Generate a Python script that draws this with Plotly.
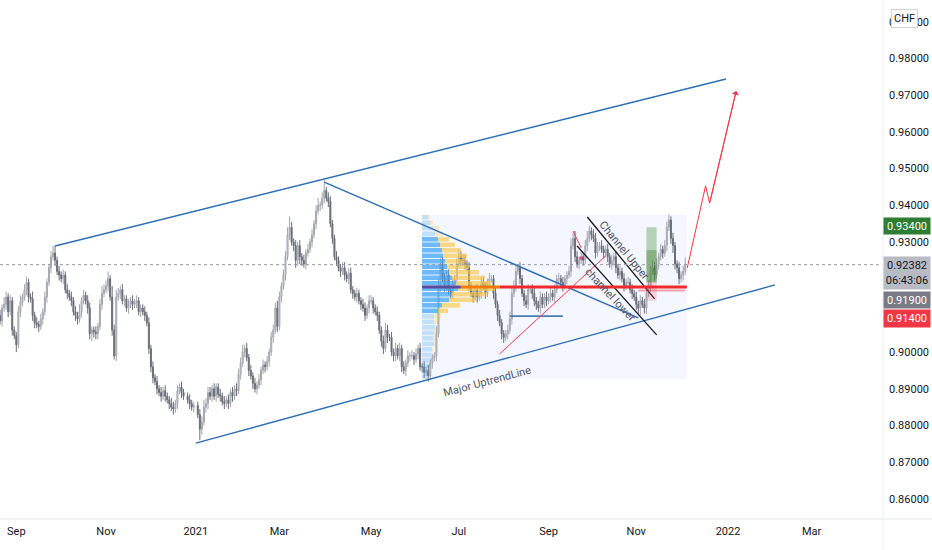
"""
USD/CHF daily chart with hand drawn trendlines, a fixed range volume
profile and a long position setup (TradingView style idea chart).
"""
import pandas as pd
import plotly.graph_objects as go

# daily closes in pips (x 1e-4), Aug 20 2020 .. Dec 3 2021, one row per week
closes = [
    9085, 9120,                        # Aug 17 2020 (Thu, Fri)
    9130, 9150, 9110, 9140, 9060,      # Aug 24
    9045, 9020, 9110, 9135, 9150,      # Aug 31
    9170, 9190, 9150, 9145, 9100,      # Sep 7
    9080, 9075, 9070, 9090, 9110,      # Sep 14
    9150, 9190, 9230, 9260, 9270,      # Sep 21
    9250, 9220, 9210, 9200, 9210,      # Sep 28
    9170, 9160, 9150, 9140, 9110,      # Oct 5
    9100, 9090, 9110, 9140, 9155,      # Oct 12
    9140, 9120, 9050, 9060, 9055,      # Oct 19
    9050, 9070, 9130, 9160, 9170,      # Oct 26
    9180, 9200, 9150, 9060, 8990,      # Nov 2
    9150, 9160, 9170, 9140, 9145,      # Nov 9
    9120, 9130, 9140, 9130, 9135,      # Nov 16
    9140, 9110, 9120, 9110, 9100,      # Nov 23
    9080, 9010, 8960, 8930, 8920,      # Nov 30
    8900, 8890, 8880, 8895, 8880,      # Dec 7
    8870, 8860, 8850, 8845, 8860,      # Dec 14
    8895, 8905, 8890, 8880,            # Dec 21 (no Dec 25)
    8870, 8860, 8850, 8855,            # Dec 28 (no Jan 1)
    8830, 8790, 8810, 8850, 8860,      # Jan 4 2021
    8890, 8880, 8900, 8880, 8905,      # Jan 11
    8885, 8880, 8865, 8860, 8870,      # Jan 18
    8860, 8890, 8880, 8900, 8895,      # Jan 25
    8940, 8970, 9000, 9010, 8985,      # Feb 1
    8950, 8935, 8915, 8900, 8910,      # Feb 8
    8925, 8950, 8965, 8960, 8975,      # Feb 15
    9000, 9040, 9060, 9120, 9070,      # Feb 22
    9150, 9180, 9210, 9260, 9320,      # Mar 1
    9340, 9300, 9290, 9250, 9290,      # Mar 8
    9260, 9250, 9240, 9270, 9280,      # Mar 15
    9300, 9320, 9350, 9385, 9400,      # Mar 22
    9400, 9420, 9440, 9420, 9410,      # Mar 29
    9350, 9310, 9260, 9250, 9230,      # Apr 5
    9220, 9230, 9210, 9200, 9215,      # Apr 12
    9170, 9160, 9150, 9160, 9140,      # Apr 19
    9130, 9120, 9100, 9120, 9140,      # Apr 26
    9140, 9120, 9110, 9100, 9060,      # May 3
    9030, 9010, 9060, 9040, 9040,      # May 10
    9000, 8990, 9010, 8990, 9010,      # May 17
    8960, 8950, 8970, 8990, 8990,      # May 24
    8990, 8980, 8995, 9010, 8960,      # May 31
    8960, 8945, 8950, 8935, 8970,      # Jun 7
    8985, 8990, 9050, 9180, 9240,      # Jun 14
    9200, 9180, 9210, 9170, 9160,      # Jun 21
    9190, 9200, 9240, 9260, 9250,      # Jun 28
    9250, 9240, 9230, 9180, 9160,      # Jul 5
    9150, 9170, 9150, 9160, 9190,      # Jul 12
    9180, 9160, 9190, 9200, 9200,      # Jul 19
    9160, 9130, 9100, 9080, 9050,      # Jul 26
    9040, 9050, 9060, 9090, 9160,      # Aug 2
    9180, 9220, 9230, 9200, 9160,      # Aug 9
    9140, 9130, 9170, 9170, 9160,      # Aug 16
    9140, 9130, 9120, 9150, 9130,      # Aug 23
    9150, 9140, 9150, 9160, 9150,      # Aug 30
    9170, 9200, 9200, 9190, 9180,      # Sep 6
    9200, 9210, 9220, 9290, 9310,      # Sep 13
    9260, 9240, 9250, 9260, 9250,      # Sep 20
    9290, 9310, 9330, 9320, 9310,      # Sep 27
    9270, 9290, 9290, 9280, 9270,      # Oct 4
    9280, 9260, 9240, 9250, 9260,      # Oct 11
    9230, 9210, 9220, 9200, 9180,      # Oct 18
    9190, 9190, 9170, 9160, 9150,      # Oct 25
    9130, 9120, 9140, 9130, 9120,      # Nov 1
    9160, 9180, 9220, 9230, 9210,      # Nov 8
    9240, 9260, 9280, 9270, 9290,      # Nov 15
    9340, 9360, 9310, 9290, 9240,      # Nov 22
    9230, 9200, 9210, 9220, 9238,      # Nov 29
]
first_open = 9100

# wick lengths per bar in 5 pip steps, same weekly grouping as closes
wick_up = ("32 43232 22342 33224 23232 32234 42323 23232 32423 23322 32343 34263 "
           "43232 23232 32223 23232 32323 22332 3232 2322 23343 33232 23232 32323 "
           "33423 23232 32323 23334 32334 63232 32323 23234 23623 32232 23323 32232 "
           "23323 32232 23432 32323 23232 32323 23232 22443 43232 32343 33232 23323 "
           "32232 23232 22343 33232 23323 32232 23232 32323 22343 43232 34323 32232 "
           "23232 32323 23232 32323 23343 32323 33232 23234")
wick_down = ("23 23323 24232 23323 32323 23232 32323 23232 33232 23343 33232 23232 "
             "32323 23232 32323 23332 32323 23232 3232 2323 26323 32323 23232 32323 "
             "23232 32323 23232 32323 23232 32343 43232 23232 32323 23232 32323 23232 "
             "32323 23232 33232 23323 32323 23232 33232 32323 23333 32323 23232 32323 "
             "23232 32323 32323 23232 32323 33232 23232 32323 23232 32323 23232 32323 "
             "23232 32323 23232 33423 32323 23232 32343 33232")

last_price = 0.92382

# fixed range volume profile, Jun 2021 .. Dec 2021 (15 pip rows)
vp_prices = [0.89325, 0.89475, 0.89625, 0.89775, 0.89925, 0.90075, 0.90225, 0.90375,
             0.90525, 0.90675, 0.90825, 0.90975, 0.91125, 0.91275, 0.91425, 0.91575,
             0.91725, 0.91875, 0.92025, 0.92175, 0.92325, 0.92475, 0.92625, 0.92775,
             0.92925, 0.93075, 0.93225, 0.93375, 0.93525, 0.93675]
vp_up = [5, 7, 8, 9, 9, 10, 12, 11, 12, 13, 12, 12, 16, 20, 27,
         30, 36, 34, 30, 27, 25, 23, 21, 20, 18, 16, 13, 11, 8, 6]
vp_down = [0, 0, 0, 1, 1, 1, 2, 2, 2, 3, 3, 7, 10, 18, 26,
           35, 37, 35, 33, 30, 22, 21, 24, 19, 15, 11, 8, 6, 3, 2]
va_low, va_high = 0.9105, 0.9315
vp_start, vp_end = "2021-06-07", "2021-12-03 20:00"
poc_price = 0.91774

# hand drawn lines: x0, y0, x1, y1, colour, width
drawings = [
    ("2020-09-28", 0.9289, "2021-12-31", 0.9744, "#2d6db5", 1.4),   # upper channel
    ("2021-01-01", 0.8752, "2022-02-03", 0.9183, "#2d6db5", 1.4),   # major uptrend
    ("2021-03-31", 0.9463, "2021-11-02", 0.9093, "#2d6db5", 1.4),   # falling line
    ("2021-08-05", 0.9098, "2021-09-10", 0.9098, "#4a7bb0", 1.6),
    ("2021-07-29", 0.8995, "2021-10-11", 0.9262, "#f23645", 1),
    ("2021-09-17", 0.9330, "2021-09-23", 0.9284, "#f23645", 1),
    ("2021-09-28", 0.9368, "2021-11-12", 0.9145, "#131722", 1.3),   # channel upper
    ("2021-09-21", 0.9289, "2021-11-15", 0.9047, "#131722", 1.3),   # channel lower
]

# projected path
proj_dates = ["2021-12-06", "2021-12-17", "2021-12-21", "2022-01-07"]
proj_prices = [0.9229, 0.9453, 0.9406, 0.9711]

# long position tool
pos_start, pos_end = "2021-11-08", "2021-11-15"
entry, target, stop = 0.919, 0.934, 0.914

# 0.91 and 0.92 sit under the price labels, so they are not drawn
y_ticks = [0.86, 0.87, 0.88, 0.89, 0.90, 0.93, 0.94, 0.95, 0.96, 0.97, 0.98, 0.99]
x_ticks = ["2020-09-01", "2020-11-02", "2021-01-01", "2021-03-01", "2021-05-03",
           "2021-07-01", "2021-09-01", "2021-11-01", "2022-01-03", "2022-03-01"]
x_tick_text = ["Sep", "Nov", "2021", "Mar", "May", "Jul", "Sep", "Nov", "2022", "Mar"]

FONT = "Roboto"
TEXT = "#131722"


def build_ohlc():
    dates = [d for d in pd.bdate_range("2020-08-20", "2021-12-03")
             if d.strftime("%m-%d") not in ("12-25", "01-01")]
    up = [int(ch) * 5 for ch in wick_up.replace(" ", "")]
    dn = [int(ch) * 5 for ch in wick_down.replace(" ", "")]
    n = min(len(dates), len(closes), len(up), len(dn))
    c = closes[:n]
    c = c[:-1] + [last_price * 10000]
    o = [first_open] + c[:-1]
    h = [max(a, b) + u for a, b, u in zip(o, c, up)]
    l = [min(a, b) - d for a, b, d in zip(o, c, dn)]
    df = pd.DataFrame({"date": dates[:n], "open": o, "high": h, "low": l, "close": c})
    for col in ("open", "high", "low", "close"):
        df[col] = df[col] / 10000
    return df


def create_chart():
    df = build_ohlc()
    fig = go.Figure()

    # volume profile rows on an overlaid pixel-like axis
    in_va = [va_low <= p <= va_high for p in vp_prices]
    fig.add_trace(go.Bar(
        y=vp_prices, x=vp_up, base=0, orientation="h", width=0.00125,
        marker_color=["rgba(66,165,245,0.75)" if v else "rgba(66,165,245,0.28)" for v in in_va],
        marker_line_width=0, xaxis="x2", yaxis="y", hoverinfo="skip", showlegend=False))
    fig.add_trace(go.Bar(
        y=vp_prices, x=vp_down, base=vp_up, orientation="h", width=0.00125,
        marker_color=["rgba(251,200,70,0.65)" if v else "rgba(251,200,70,0.3)" for v in in_va],
        marker_line_width=0, xaxis="x2", yaxis="y", hoverinfo="skip", showlegend=False))

    fig.add_trace(go.Candlestick(
        x=df["date"], open=df["open"], high=df["high"], low=df["low"], close=df["close"],
        increasing=dict(line=dict(color="#a3a6af", width=1), fillcolor="#d1d4dc"),
        decreasing=dict(line=dict(color="#6a6d78", width=1), fillcolor="#6a6d78"),
        showlegend=False, hoverinfo="skip"))

    fig.add_trace(go.Scatter(
        x=proj_dates, y=proj_prices, mode="lines",
        line=dict(color="#f23645", width=1), hoverinfo="skip", showlegend=False))

    shapes = []
    # volume profile range background
    shapes.append(dict(type="rect", xref="x", yref="y", x0=vp_start, x1=vp_end,
                       y0=0.8926, y1=0.9374, fillcolor="rgba(41,98,255,0.05)",
                       line_width=0, layer="below"))
    for x0, y0, x1, y1, color, width in drawings:
        shapes.append(dict(type="line", xref="x", yref="y", x0=x0, y0=y0, x1=x1, y1=y1,
                           line=dict(color=color, width=width)))
    # point of control / red level
    shapes.append(dict(type="line", x0=vp_start, x1="2021-07-02", y0=poc_price, y1=poc_price,
                       line=dict(color="#5b4a9e", width=3)))
    shapes.append(dict(type="line", x0="2021-07-02", x1="2021-07-29", y0=poc_price, y1=poc_price,
                       line=dict(color="#f57c00", width=3)))
    shapes.append(dict(type="line", x0="2021-07-29", x1=vp_end, y0=poc_price, y1=poc_price,
                       line=dict(color="#ef2a2a", width=3)))
    shapes.append(dict(type="line", x0="2021-11-02", x1="2021-12-03", y0=0.9168, y1=0.9168,
                       line=dict(color="rgba(242,54,69,0.45)", width=2)))
    shapes.append(dict(type="rect", x0="2021-09-22", x1="2021-09-24", y0=0.9252, y1=0.9260,
                       fillcolor="rgba(233,30,99,0.6)", line_width=0))
    # long position tool
    shapes.append(dict(type="rect", x0=pos_start, x1=pos_end, y0=entry, y1=target,
                       fillcolor="rgba(76,150,60,0.38)", line_width=0))
    shapes.append(dict(type="rect", x0=pos_start, x1=pos_end, y0=entry, y1=0.9278,
                       fillcolor="rgba(56,120,40,0.35)", line_width=0))
    shapes.append(dict(type="rect", x0=pos_start, x1=pos_end, y0=stop, y1=entry,
                       fillcolor="rgba(242,54,69,0.2)", line_width=0))
    # last price dotted line
    shapes.append(dict(type="line", xref="paper", x0=0, x1=0.995, y0=last_price, y1=last_price,
                       line=dict(color="#9598a1", width=1, dash="dot")))
    # axis separators
    shapes.append(dict(type="line", xref="paper", yref="paper", x0=0, x1=1.06, y0=0, y1=0,
                       line=dict(color="#e0e3eb", width=1)))
    shapes.append(dict(type="line", xref="paper", yref="paper", x0=1, x1=1, y0=-0.07, y1=1,
                       line=dict(color="#eceef2", width=1)))

    label_font = dict(family=FONT, size=11, color="#50535e")
    annotations = [
        dict(x="2021-07-21", y=0.8921, text="Major UptrendLine", textangle=-15,
             showarrow=False, font=label_font),
        dict(x="2021-10-22", y=0.9276, text="Channel Upper", textangle=51,
             showarrow=False, font=label_font),
        dict(x="2021-10-13", y=0.9156, text="channel lower", textangle=47,
             showarrow=False, font=label_font),
        # arrow head of projection
        dict(x=proj_dates[-1], y=proj_prices[-1], ax=proj_dates[-2], ay=proj_prices[-2],
             xref="x", yref="y", axref="x", ayref="y", text="", showarrow=True,
             arrowhead=1, arrowsize=1.2, arrowwidth=1, arrowcolor="#f23645"),
        dict(xref="paper", yref="paper", x=1.0249, y=0.9644, xanchor="center",
             yanchor="middle", text="CHF", showarrow=False,
             bgcolor="#ffffff", bordercolor="#d1d4dc", borderwidth=1, borderpad=2,
             font=dict(family=FONT, size=11, color=TEXT)),
    ]
    # price scale labels
    price_labels = [
        (target, "0.93400", "#2e7d32", "#ffffff", 1, 14),
        (last_price, "0.92382<br>06:43:06", "#b8bbc4", TEXT, -8.5, 30),
        (entry, "0.91900", "#787b86", "#ffffff", -17.3, 14),
        (stop, "0.91400", "#f23645", "#ffffff", -18, 15),
    ]
    for y, text, bg, fg, shift, height in price_labels:
        annotations.append(dict(
            xref="paper", yref="y", x=1, y=y, xanchor="left", yanchor="middle",
            yshift=shift, text=text, showarrow=False, bgcolor=bg, width=44, height=height,
            font=dict(family=FONT, size=11, color=fg), align="center"))

    fig.update_layout(
        width=932, height=550,
        margin=dict(l=0, r=49, t=0, b=31, autoexpand=False),
        paper_bgcolor="#ffffff", plot_bgcolor="#ffffff",
        showlegend=False, barmode="overlay",
        font=dict(family=FONT, size=11, color=TEXT),
        shapes=shapes, annotations=annotations,
        xaxis=dict(type="date", range=["2020-08-20", "2022-04-19"],
                   rangebreaks=[dict(bounds=["sat", "mon"])],
                   tickvals=x_ticks, ticktext=x_tick_text, showgrid=False, zeroline=False,
                   rangeslider=dict(visible=False), ticks="", ticklabelstandoff=4,
                   tickfont=dict(size=11, color=TEXT)),
        xaxis2=dict(overlaying="x", range=[-422, 461], visible=False),
        yaxis=dict(side="right", range=[0.85454, 0.99592], tickvals=y_ticks,
                   ticktext=[f"{v:.5f}" for v in y_ticks], showgrid=False, zeroline=False,
                   ticks="", ticklabelstandoff=5, tickfont=dict(size=11, color=TEXT)),
    )
    return fig


if __name__ == "__main__":
    fig = create_chart()
    # the page sits flush in the window, like the original screenshot
    fig.write_html("out.html", config={"displayModeBar": False},
                   post_script="document.body.style.margin = '0';")
